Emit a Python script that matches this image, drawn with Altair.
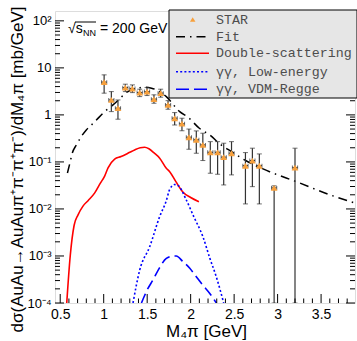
import altair as alt
import pandas as pd
import numpy as np

# ---------------- data ----------------
star_m = [1.005, 1.088, 1.164, 1.249, 1.33, 1.414, 1.498, 1.578, 1.655, 1.74, 1.816, 1.9,
          1.98, 2.065, 2.14, 2.226, 2.31, 2.38, 2.47, 2.63, 2.71, 2.79, 2.96, 3.2]
star_y = [4.97, 2.08, 1.39, 3.8, 3.63, 2.98, 3.13, 2.16, 2.9, 1.63, 0.85, 0.65,
          0.335, 0.295, 0.23, 0.16, 0.16, 0.126, 0.153, 0.083, 0.107, 0.083, 0.028, 0.076]
star_hi = [7.1, 3.13, 2.08, 4.5, 4.35, 3.52, 3.81, 2.67, 3.52, 2.01, 1.12, 0.85,
           0.50, 0.457, 0.408, 0.27, 0.27, 0.25, 0.27, 0.158, 0.196, 0.148, 0.031, 0.196]
star_lo = [2.9, 1.175, 0.81, 3.13, 2.98, 2.45, 2.58, 1.77, 2.38, 1.32, 0.61, 0.46,
           0.186, 0.153, 0.107, 0.0575, 0.0547, 0.0324, 0.053, 0.0128, 0.0298, 0.0128, 1e-4, 1e-4]
star_xerr = [0.03] * 24

fit_m = [0.583, 0.615, 0.636, 0.686, 0.744, 0.80, 0.859, 0.916, 1.011, 1.107, 1.184, 1.25,
         1.376, 1.471, 1.55, 1.644, 1.72, 1.874, 1.97, 2.10, 2.22, 2.35, 2.47, 2.62,
         2.908, 3.215, 3.6, 3.9]
fit_y = [0.058, 0.101, 0.148, 0.23, 0.35, 0.48, 0.61, 0.78, 1.17, 1.63, 2.19, 2.9,
         3.6, 3.9, 3.7, 3.13, 2.45, 1.17, 0.89, 0.52, 0.375, 0.23, 0.166, 0.11,
         0.062, 0.038, 0.020, 0.0132]

ds_m = [0.575, 0.615, 0.66, 0.705, 0.762, 0.82, 0.897, 0.96, 1.011, 1.05, 1.126, 1.2,
        1.3, 1.356, 1.42, 1.471, 1.52, 1.58, 1.644, 1.72, 1.759, 1.83, 1.91, 2.0, 2.095]
ds_y = [1e-4, 1e-3, 0.0045, 0.0075, 0.0115, 0.015, 0.022, 0.035, 0.05, 0.075, 0.115, 0.13,
        0.16, 0.18, 0.2, 0.205, 0.19, 0.155, 0.12, 0.073, 0.062, 0.038, 0.023, 0.0175, 0.0143]

low_m = [1.337, 1.414, 1.529, 1.644, 1.72, 1.759, 1.816, 1.86, 1.95, 2.04, 2.14, 2.22, 2.295, 2.38]
low_y = [1e-4, 5e-4, 1.58e-3, 6.9e-3, 0.015, 0.026, 0.033, 0.031, 0.0155, 0.0066, 0.0026, 0.0009, 3.6e-4, 1e-4]

vdm_m = [1.434, 1.5, 1.567, 1.64, 1.72, 1.8, 1.835, 1.91, 1.99, 2.065, 2.14, 2.22, 2.295]
vdm_y = [1e-4, 1.9e-4, 3.1e-4, 5.5e-4, 8.9e-4, 1.0e-3, 1.0e-3, 7.6e-4, 5.5e-4, 3.6e-4, 2.4e-4, 1.6e-4, 1e-4]

x_tick_vals = [0.5, 1.0, 1.5, 2.0, 2.5, 3.0, 3.5]
x_tick_labels = ["0.5", "1", "1.5", "2", "2.5", "3", "3.5"]
y_tick_vals = [1e-4, 1e-3, 1e-2, 1e-1, 1, 10, 100]
y_tick_labels = ["10⁻⁴", "10⁻³", "10⁻²", "10⁻¹", "1", "10", "10²"]

legend_labels = ["STAR", "Fit", "Double-scattering", "γγ, Low-energy", "γγ, VDM-Regge"]

# ---------------- layout ----------------
W, H = 300, 292
XMIN, XMAX = 0.44, 3.89
YMIN, YMAX = 1e-4, 162

xs = alt.Scale(domain=[XMIN, XMAX], nice=False, zero=False)
ys = alt.Scale(type="log", domain=[YMIN, YMAX], nice=False)

FONT = "Liberation Sans"
MONO = "Liberation Mono"

xlabel_expr = " : ".join(
    f"abs(datum.value - {v}) < 0.01 ? '{l}'" for v, l in zip(x_tick_vals, x_tick_labels)) + " : ''"
ylabel_expr = " : ".join(
    f"abs(log(datum.value)/LN10 - ({int(round(np.log10(v)))})) < 0.1 ? '{l}'"
    for v, l in zip(y_tick_vals, y_tick_labels)) + " : ''"

xaxis = alt.Axis(values=x_tick_vals, labelExpr=xlabel_expr, ticks=False, domain=False, grid=False,
                 labelFont=FONT, labelFontSize=14, labelColor="black", labelPadding=4,
                 labelBaseline="top",
                 title="M₄π [GeV]", titleFont=FONT, titleFontSize=17, titleFontWeight="normal",
                 titleColor="black", titleX=151, titleY=33, titleAlign="center",
                 titleBaseline="alphabetic")
yaxis = alt.Axis(values=y_tick_vals, labelExpr=ylabel_expr, ticks=False, domain=False, grid=False,
                 labelFont=FONT, labelFontSize=13, labelColor="black", labelPadding=4,
                 title="dσ(AuAu→AuAuπ⁺π⁻π⁺π⁻)/dM₄π [mb/GeV]", titleFont=FONT, titleFontSize=17,
                 titleFontWeight="normal", titleColor="black", titleAngle=-90,
                 titleX=-33, titleY=158, titleAlign="center", titleBaseline="alphabetic")


def X(f):
    return alt.X(f, type="quantitative", scale=xs, axis=xaxis)


def Y(f):
    return alt.Y(f, type="quantitative", scale=ys, axis=yaxis)


star = pd.DataFrame({"m": star_m, "y": star_y, "hi": star_hi, "lo": star_lo, "xe": star_xerr})
star["mlo"] = star["m"] - star["xe"]
star["mhi"] = star["m"] + star["xe"]

fit = pd.DataFrame({"m": fit_m, "y": fit_y})
ds = pd.DataFrame({"m": ds_m, "y": ds_y})
low = pd.DataFrame({"m": low_m, "y": low_y})
vdm = pd.DataFrame({"m": vdm_m, "y": vdm_y})

layers = []

# curves
layers.append(alt.Chart(ds).mark_line(color="#ff0000", strokeWidth=1.6, clip=True,
                                      interpolate="monotone").encode(x=X("m"), y=Y("y")))
layers.append(alt.Chart(low).mark_line(color="#0000ff", strokeWidth=1.6, strokeDash=[2, 2.2], clip=True,
                                       interpolate="monotone").encode(x=X("m"), y=Y("y")))
layers.append(alt.Chart(vdm).mark_line(color="#0000ff", strokeWidth=1.6, strokeDash=[10, 5], clip=True,
                                       interpolate="monotone").encode(x=X("m"), y=Y("y")))
layers.append(alt.Chart(fit).mark_line(color="black", strokeWidth=1.5, strokeDash=[9, 5, 1.5, 5], clip=True,
                                       interpolate="monotone").encode(x=X("m"), y=Y("y")))

# error bars
EB = "#333333"
layers.append(alt.Chart(star).mark_rule(color=EB, strokeWidth=1.2, clip=True).encode(
    x=X("m"), y=Y("lo"), y2="hi"))
layers.append(alt.Chart(star).mark_rule(color=EB, strokeWidth=1.2, clip=True).encode(
    x=X("mlo"), x2="mhi", y=Y("y")))
layers.append(alt.Chart(star).mark_tick(color=EB, orient="horizontal", size=5, thickness=1, clip=True).encode(
    x=X("m"), y=Y("hi")))
layers.append(alt.Chart(star).mark_tick(color=EB, orient="horizontal", size=5, thickness=1, clip=True).encode(
    x=X("m"), y=Y("lo")))
layers.append(alt.Chart(star).mark_tick(color=EB, orient="vertical", size=4, thickness=1, clip=True).encode(
    x=X("mlo"), y=Y("y")))
layers.append(alt.Chart(star).mark_tick(color=EB, orient="vertical", size=4, thickness=1, clip=True).encode(
    x=X("mhi"), y=Y("y")))
# markers
layers.append(alt.Chart(star).mark_point(shape="triangle-up", filled=True, color="#f7a03c", size=45,
                                         opacity=1).encode(x=X("m"), y=Y("y")))

# inward ticks (ROOT style)
ymaj = pd.DataFrame({"v": y_tick_vals})
ymin_vals = [k * 10.0 ** e for e in range(-4, 3) for k in range(2, 10) if k * 10.0 ** e < YMAX]
ymin = pd.DataFrame({"v": ymin_vals})
xmaj = pd.DataFrame({"v": x_tick_vals})
xmin_vals = [round(0.5 + 0.1 * i, 2) for i in range(0, 35)]
xmin_vals = [v for v in xmin_vals if v not in x_tick_vals and v < XMAX]
xmin = pd.DataFrame({"v": xmin_vals})

for df, ln in ((ymaj, 9), (ymin, 5)):
    layers.append(alt.Chart(df).mark_rule(color="black", strokeWidth=1).encode(
        y=Y("v"), x=alt.value(0), x2=alt.value(ln)))
    layers.append(alt.Chart(df).mark_rule(color="black", strokeWidth=1).encode(
        y=Y("v"), x=alt.value(W), x2=alt.value(W - ln)))
for df, ln in ((xmaj, 9), (xmin, 4.5)):
    layers.append(alt.Chart(df).mark_rule(color="black", strokeWidth=1).encode(
        x=X("v"), y=alt.value(H), y2=alt.value(H - ln)))

# sqrt(s_NN) annotation
one = pd.DataFrame({"a": [0]})
layers.append(alt.Chart(one).mark_text(text="√s", font=FONT, fontSize=14, align="left",
                                       baseline="alphabetic", color="black").encode(
    x=alt.value(13), y=alt.value(22)))
layers.append(alt.Chart(one).mark_text(text="NN", font=FONT, fontSize=9, align="left",
                                       baseline="alphabetic", color="black").encode(
    x=alt.value(28), y=alt.value(25)))
layers.append(alt.Chart(one).mark_text(text="= 200 GeV", font=FONT, fontSize=14, align="left",
                                       baseline="alphabetic", color="black").encode(
    x=alt.value(45), y=alt.value(22)))
layers.append(alt.Chart(one).mark_rule(color="black", strokeWidth=1).encode(
    x=alt.value(20), x2=alt.value(41), y=alt.value(11)))

# legend box
LX0, LX1, LY0, LY1 = 114, 302, -1, 87
layers.append(alt.Chart(one).mark_rect(fill="#e6e6e6", stroke="black", strokeWidth=1).encode(
    x=alt.value(LX0), x2=alt.value(LX1), y=alt.value(LY0), y2=alt.value(LY1)))
rows = [8.5, 25.7, 42.3, 60.7, 78.3]
SX0, SX1, TX = 121, 154, 161
layers.append(alt.Chart(one).mark_point(shape="triangle-up", filled=True, color="#f7a03c", size=30,
                                        opacity=1).encode(x=alt.value(137.7), y=alt.value(rows[0])))
styles = [("black", [9, 5, 1.5, 5]), ("#ff0000", None), ("#0000ff", [2, 2.2]), ("#0000ff", [13, 5])]
for (col, dash), ry in zip(styles, rows[1:]):
    kw = dict(color=col, strokeWidth=1.6)
    if dash is not None:
        kw["strokeDash"] = dash
    layers.append(alt.Chart(one).mark_rule(**kw).encode(
        x=alt.value(SX0), x2=alt.value(SX1), y=alt.value(ry)))
for lab, ry in zip(legend_labels, rows):
    layers.append(alt.Chart(one).mark_text(text=lab, font=MONO, fontSize=13.3, align="left",
                                           baseline="middle", color="#4d4d4d").encode(
        x=alt.value(TX), y=alt.value(ry)))

chart = alt.layer(*layers).properties(
    width=W, height=H,
    autosize=alt.AutoSizeParams(type="none"),
    padding={"left": 55, "top": 11, "right": 2, "bottom": 38},
).configure_view(stroke="black", strokeWidth=1).configure(background="white")

chart.save("out.html", embed_options={"renderer": "svg", "actions": False})
